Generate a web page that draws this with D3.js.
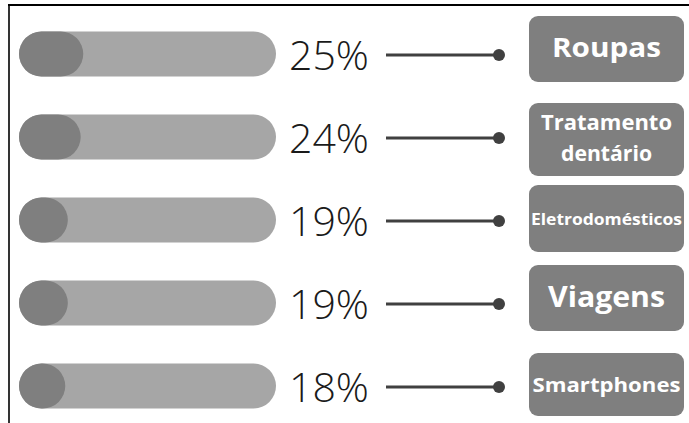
<!DOCTYPE html>
<html><head><meta charset="utf-8">
<script src="https://cdn.jsdelivr.net/npm/d3@7"></script>
<style>html,body{margin:0;padding:0;background:#fff;}svg{display:block;}</style>
</head><body>
<script>
const categories = ["Roupas", "Tratamento dentário", "Eletrodomésticos", "Viagens", "Smartphones"];
const values = [25, 24, 19, 19, 18];
const labelLines = [["Roupas"], ["Tratamento", "dentário"], ["Eletrodomésticos"], ["Viagens"], ["Smartphones"]];

const W = 689, H = 423;
const svg = d3.select("body").append("svg").attr("width", W).attr("height", H);

// layout constants
const labelSizes = [27, 21, 16, 28, 19];
const labelWidths = [[109], [131, 91], [151], [117], [148]];
const labelBase = [[57], [130, 161], [225], [307], [392]];
const boxTop = [16, 103, 185, 265, 353];
const boxH = [66, 73, 67, 66, 63];

// frame
svg.append("line").attr("x1", 8).attr("x2", W).attr("y1", 5).attr("y2", 5).attr("stroke", "#000").attr("stroke-width", 2.2);
svg.append("line").attr("x1", 9).attr("x2", 9).attr("y1", 4).attr("y2", H).attr("stroke", "#000").attr("stroke-width", 1.6);

const y = d3.scalePoint().domain(categories).range([54, 386]);
const x = d3.scaleLinear().domain([0, 100]).range([0, 257]);
const x0 = 19, barH = 45;

const g = svg.selectAll("g.row").data(categories).join("g").attr("class", "row");

g.append("rect").attr("x", x0).attr("y", d => y(d) - barH/2)
  .attr("width", x(100)).attr("height", barH).attr("rx", barH/2).attr("fill", "#a6a6a6");

g.append("rect").attr("x", x0).attr("y", d => y(d) - barH/2)
  .attr("width", (d,i) => x(values[i])).attr("height", barH)
  .attr("rx", (d,i) => Math.min(x(values[i])/2, barH/2)).attr("ry", barH/2)
  .attr("fill", "#7f7f7f");

g.append("text").attr("x", 289).attr("y", d => y(d))
  .attr("dominant-baseline", "central")
  .attr("font-family", "Open Sans").attr("font-weight", 300).attr("font-size", 41)
  .attr("fill", "#1a1a1a")
  .text((d,i) => values[i] + "%");

g.append("line").attr("x1", 386).attr("x2", 499).attr("y1", d => y(d) + 1).attr("y2", d => y(d) + 1)
  .attr("stroke", "#404040").attr("stroke-width", 3);
g.append("circle").attr("cx", 499).attr("cy", d => y(d) + 1).attr("r", 6).attr("fill", "#404040");

g.append("rect").attr("x", 529).attr("y", (d,i) => boxTop[i])
  .attr("width", 155).attr("height", (d,i) => boxH[i]).attr("rx", 9)
  .attr("fill", "#7f7f7f");

g.each(function(d, i) {
  const sel = d3.select(this);
  labelLines[i].forEach((ln, k) => {
    sel.append("text")
      .attr("x", 606.5).attr("y", labelBase[i][k])
      .attr("text-anchor", "middle")
      .attr("font-family", "Open Sans").attr("font-weight", 700)
      .attr("font-size", labelSizes[i]).attr("fill", "#fff")
      .attr("textLength", labelWidths[i][k]).attr("lengthAdjust", "spacingAndGlyphs")
      .text(ln);
  });
});
</script>
</body></html>
